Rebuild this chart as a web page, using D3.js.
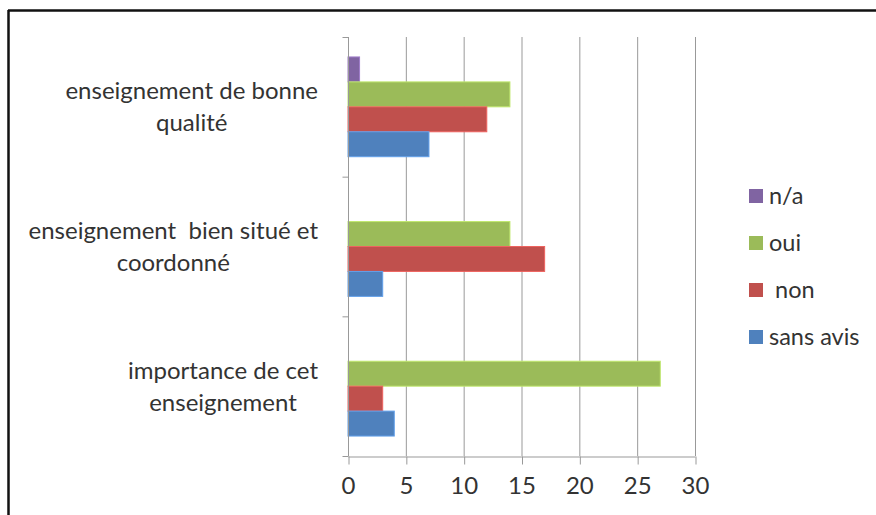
<!DOCTYPE html>
<html>
<head>
<meta charset="utf-8">
<script src="https://cdn.jsdelivr.net/npm/d3@7"></script>
<style>
  body { margin: 0; background: #fff; }
  svg text { font-family: Lato, 'Open Sans', sans-serif; fill: #333; }
</style>
</head>
<body>
<div id="chart"></div>
<script>
const categories = [
  ['enseignement de bonne', 'qualité'],
  ['enseignement  bien situé et', 'coordonné'],
  ['importance de cet', 'enseignement']
]
const series = ['n/a', 'oui', 'non', 'sans avis']
const legendLabels = ['n/a', 'oui', ' non', 'sans avis']
const colors = ['#8064a2', '#9bbb59', '#c0504d', '#4f81bd']
const values = [
  [1, 14, 12, 7],
  [0, 14, 17, 3],
  [0, 27, 3, 4]
]
const ticks = [0, 5, 10, 15, 20, 25, 30]

const width = 876
const height = 515
const margin = { top: 37, right: 181, bottom: 59, left: 348 }

const svg = d3.select('#chart')
  .append('svg')
  .attr('width', width)
  .attr('height', height)

// outer frame (top and left only visible)
svg.append('line')
  .attr('x1', 8).attr('x2', width).attr('y1', 10.5).attr('y2', 10.5)
  .attr('stroke', '#111').attr('stroke-width', 2.5)
svg.append('line')
  .attr('x1', 8.5).attr('x2', 8.5).attr('y1', 10).attr('y2', height)
  .attr('stroke', '#111').attr('stroke-width', 2.5)

const x = d3.scaleLinear()
  .domain([0, 30])
  .range([margin.left, width - margin.right])

const y = d3.scaleBand()
  .domain(d3.range(categories.length))
  .range([margin.top, height - margin.bottom])
  .paddingInner(0)

const ySub = d3.scaleBand()
  .domain(series)
  .range([0, y.bandwidth()])
  .paddingOuter(0.8)
  .paddingInner(0)

// gridlines
svg.append('g')
  .selectAll('line')
  .data(ticks.slice(1))
  .join('line')
  .attr('x1', d => x(d) + 0.5).attr('x2', d => x(d) + 0.5)
  .attr('y1', margin.top).attr('y2', height - margin.bottom)
  .attr('stroke', '#999').attr('stroke-width', 1)

// bars
const groups = svg.append('g')
  .selectAll('g')
  .data(values)
  .join('g')
  .attr('transform', (d, i) => `translate(0,${y(i)})`)

groups.selectAll('rect')
  .data(d => d.map((v, j) => ({ v, name: series[j], color: colors[j] })).filter(d => d.v > 0))
  .join('rect')
  .attr('x', x(0))
  .attr('y', d => ySub(d.name))
  .attr('width', d => x(d.v) - x(0))
  .attr('height', ySub.bandwidth())
  .attr('fill', d => d.color)
  .attr('stroke', d => d3.color(d.color).brighter(0.6))
  .attr('stroke-width', 1)

// x axis
const xAxis = svg.append('g')
  .attr('transform', `translate(0,${height - margin.bottom + 0.5})`)
  .call(d3.axisBottom(x).tickValues(ticks).tickSize(8).tickSizeOuter(0).tickPadding(12))
xAxis.select('.domain').attr('stroke', '#999')
xAxis.selectAll('.tick line').attr('stroke', '#999').attr('transform', 'translate(0.5,0)')
xAxis.selectAll('text')
  .style('font-size', '24px')
  .style('font-family', "Lato, 'Open Sans', sans-serif")
  .attr('fill', '#333')

// y axis with ticks on band boundaries
const yAxis = svg.append('g')
  .attr('transform', `translate(${margin.left + 0.5},0)`)
yAxis.append('line')
  .attr('y1', margin.top).attr('y2', height - margin.bottom)
  .attr('stroke', '#999')
yAxis.selectAll('.btick')
  .data(d3.range(categories.length + 1))
  .join('line')
  .attr('class', 'btick')
  .attr('x1', -6).attr('x2', 0)
  .attr('y1', i => (i < categories.length ? y(i) : y.range()[1]) + 0.5)
  .attr('y2', i => (i < categories.length ? y(i) : y.range()[1]) + 0.5)
  .attr('stroke', '#999')

// category labels: each block right aligned, lines centred inside it
const labelRight = 318
const labels = svg.append('g')
  .selectAll('text')
  .data(categories)
  .join('text')
  .attr('y', (d, i) => y(i) + y.bandwidth() / 2 - 16)
  .attr('text-anchor', 'middle')
  .style('font-size', '24px')
  .style('white-space', 'pre')
labels.selectAll('tspan')
  .data(d => d)
  .join('tspan')
  .attr('dy', (d, i) => i === 0 ? '0.35em' : 32)
  .text(d => d)
labels.each(function () {
  const spans = d3.select(this).selectAll('tspan')
  const w = d3.max(spans.nodes(), n => n.getComputedTextLength())
  spans.attr('x', labelRight - w / 2)
})

// legend
const legend = svg.append('g')
  .selectAll('g')
  .data(series)
  .join('g')
  .attr('transform', (d, i) => `translate(749,${196 + i * 47})`)
legend.append('rect')
  .attr('x', 0).attr('y', -7)
  .attr('width', 14).attr('height', 14)
  .attr('fill', (d, i) => colors[i])
legend.append('text')
  .attr('x', 20)
  .attr('dy', '0.35em')
  .style('font-size', '23.5px')
  .style('white-space', 'pre')
  .text((d, i) => legendLabels[i])
</script>
</body>
</html>
